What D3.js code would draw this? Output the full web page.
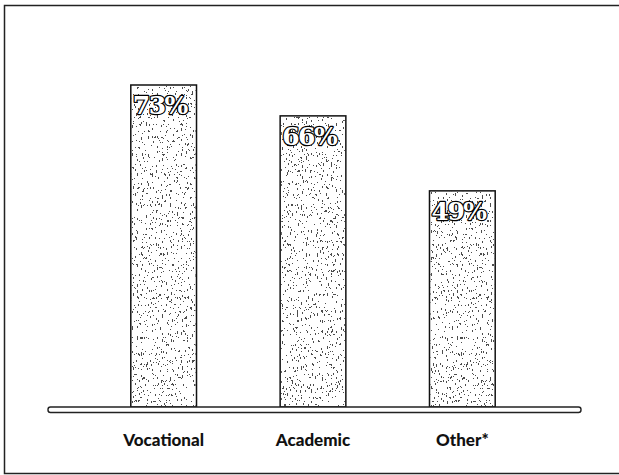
<!DOCTYPE html>
<html>
<head>
<meta charset="utf-8">
<script src="https://cdn.jsdelivr.net/npm/d3@7"></script>
<style>
  body { margin: 0; background: white; }
</style>
</head>
<body>
<div id="chart"></div>
<script>
const categories = ['Vocational', 'Academic', 'Other*']
const values = [73, 66, 49]

const width = 619
const height = 475
const baseY = 407

var svg = d3.select('#chart').append('svg')
	.attr('width', width)
	.attr('height', height)

// speckle texture for the bars (scanned look)
var defs = svg.append('defs')
var f = defs.append('filter').attr('id', 'speckle')
	.attr('x', 0).attr('y', 0).attr('width', 1).attr('height', 1)
f.append('feTurbulence')
	.attr('type', 'fractalNoise')
	.attr('baseFrequency', '0.8 0.3')
	.attr('numOctaves', 2)
	.attr('seed', 7)
	.attr('result', 'noise')
f.append('feColorMatrix')
	.attr('in', 'noise')
	.attr('type', 'matrix')
	.attr('values', '0 0 0 0 0  0 0 0 0 0  0 0 0 0 0  1 0 0 0 0')
	.attr('result', 'a')
var ct = f.append('feComponentTransfer').attr('in', 'a').attr('result', 'dots')
ct.append('feFuncA').attr('type', 'discrete').attr('tableValues', '0.7 0 0')
f.append('feComposite').attr('in', 'dots').attr('in2', 'SourceGraphic').attr('operator', 'in')

// outer frame (no right side)
svg.append('path')
	.attr('d', 'M619,5.5 H4.5 V473.5 H619')
	.style('fill', 'none')
	.style('stroke', '#222')
	.style('stroke-width', 1.5)

var xscale = d3.scaleBand()
	.domain(categories)
	.range([86, 540])
	.paddingInner(0.56)
	.paddingOuter(0.3)

var yscale = d3.scaleLinear()
	.domain([0, 73])
	.range([baseY, 85])

var bars = svg.selectAll('.bar')
	.data(values)
	.enter()
	.append('g')
	.attr('class', 'bar')

bars.append('rect')
	.attr('x', (d, i) => xscale(categories[i]))
	.attr('y', d => yscale(d))
	.attr('width', xscale.bandwidth())
	.attr('height', d => baseY - yscale(d))
	.style('fill', 'white')
	.style('stroke', '#111')
	.style('stroke-width', 1.5)

bars.append('rect')
	.attr('x', (d, i) => xscale(categories[i]) + 1)
	.attr('y', d => yscale(d) + 1)
	.attr('width', xscale.bandwidth() - 2)
	.attr('height', d => baseY - yscale(d) - 2)
	.style('fill', '#222')
	.attr('filter', 'url(#speckle)')

// percentage labels, outlined
bars.append('text')
	.text(d => d + '%')
	.attr('x', (d, i) => xscale(categories[i]) + 2)
	.attr('y', d => yscale(d) + 29)
	.style('font-family', 'DejaVu Serif')
	.style('font-weight', 'bold')
	.style('font-size', '25px')
	.style('letter-spacing', '-1.5px')
	.style('fill', 'white')
	.style('stroke', 'black')
	.style('stroke-width', 2.4)
	.style('stroke-linejoin', 'round')
	.style('paint-order', 'stroke')

// baseline, a thin rounded bar
svg.append('rect')
	.attr('x', 48)
	.attr('y', baseY)
	.attr('width', 533)
	.attr('height', 5.5)
	.attr('rx', 2.5)
	.style('fill', 'white')
	.style('stroke', '#222')
	.style('stroke-width', 1.4)

// category labels
svg.selectAll('.cat')
	.data(categories)
	.enter()
	.append('text')
	.attr('class', 'cat')
	.text(d => d)
	.attr('x', d => xscale(d) + xscale.bandwidth() / 2)
	.attr('y', 446)
	.attr('text-anchor', 'middle')
	.style('font-family', 'Lato')
	.style('font-weight', '900')
	.style('font-size', '17px')
	.style('fill', '#111')
</script>
</body>
</html>
